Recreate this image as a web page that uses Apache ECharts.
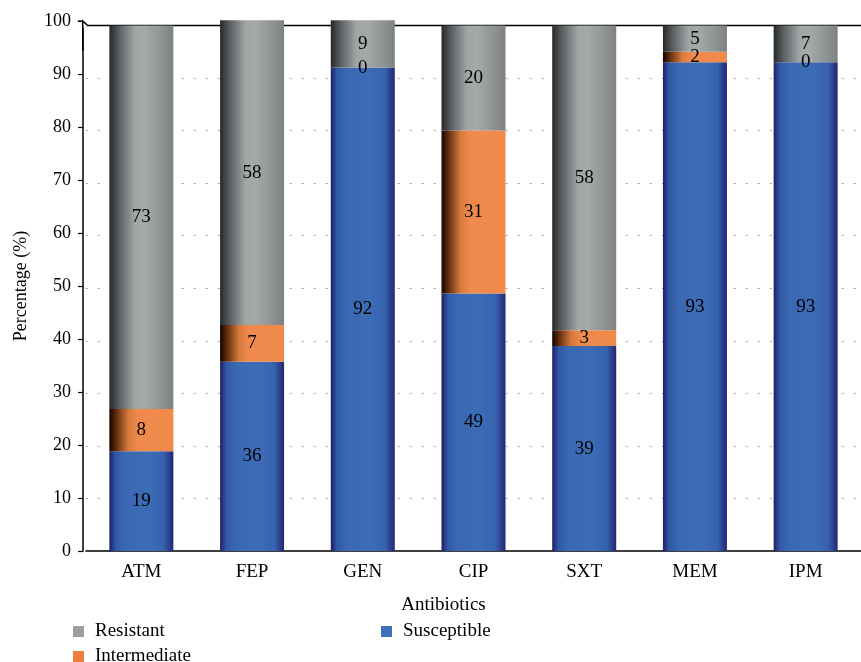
<!DOCTYPE html>
<html><head><meta charset="utf-8">
<script src="https://cdn.jsdelivr.net/npm/echarts@6/dist/echarts.min.js"></script>
<style>html,body{margin:0;padding:0;background:#fff}#c{width:861px;height:662px}</style>
</head><body><div id="c"></div>
<script>
var categories = ['ATM','FEP','GEN','CIP','SXT','MEM','IPM'];
var susceptible = [19,36,92,49,39,93,93];
var intermediate = [8,7,0,31,3,2,0];
var resistant = [73,58,9,20,58,5,7];
var yTicks = [0,10,20,30,40,50,60,70,80,90,100];

var FONT = 'Liberation Serif, DejaVu Serif, serif';
function grad(stops){
  return new echarts.graphic.LinearGradient(0,0,1,0,stops.map(function(s){return {offset:s[0],color:s[1]};}));
}
var blueG = grad([[0,'#201d66'],[0.1,'#3159a6'],[0.25,'#3a68b3'],[0.6,'#3d6cb7'],[0.85,'#3762ae'],[1,'#232573']]);
var grayG = grad([[0,'#25292b'],[0.15,'#5a5e60'],[0.4,'#a2a5a6'],[0.55,'#a6a9aa'],[0.85,'#8d9091'],[1,'#7d8081']]);
var orangeG = grad([[0,'#120400'],[0.12,'#6a3210'],[0.3,'#d77a3e'],[0.45,'#ef8a4c'],[1,'#f08a4b']]);

var chart = echarts.init(document.getElementById('c'), null, {renderer:'canvas'});
function mk(name, data, color){
  return {
    name:name, type:'bar', stack:'all', data:data, yAxisIndex:1, barWidth:64, clip:false,
    itemStyle:{color:color},
    label:{show:true, position:'inside', color:'#000', fontFamily:FONT, fontSize:19,
      formatter:function(p){return String(p.value);}},
    emphasis:{disabled:true}
  };
}
var legTxt = {fontFamily:FONT,fontSize:19,color:'#000',padding:[0,0,0,6]};
var option = {
  animation:false,
  textStyle:{fontFamily:FONT},
  grid:{left:86, top:21, width:778, height:530, containLabel:false},
  legend:[
    {data:[{name:'Resistant',itemStyle:{color:'#9c9e9f'}}], left:68, top:617, icon:'rect', itemWidth:11, itemHeight:11, textStyle:legTxt},
    {data:[{name:'Susceptible',itemStyle:{color:'#4170ba'}}], left:376, top:617, icon:'rect', itemWidth:11, itemHeight:11, textStyle:legTxt},
    {data:[{name:'Intermediate',itemStyle:{color:'#ec7d3a'}}], left:68, top:642, icon:'rect', itemWidth:11, itemHeight:11, textStyle:legTxt}
  ],
  xAxis:{type:'category', data:categories,
    axisLine:{lineStyle:{color:'#000',width:1.5}}, axisTick:{show:false},
    axisLabel:{color:'#000',fontFamily:FONT,fontSize:19,margin:12},
    name:'Antibiotics', nameLocation:'middle', nameGap:45,
    nameTextStyle:{color:'#000',fontFamily:FONT,fontSize:19,padding:[0,60,0,0]}},
  yAxis:[
    {type:'value', min:0, max:100, interval:10, offset:3,
      axisLine:{show:true,lineStyle:{color:'#000',width:1.5}},
      axisTick:{show:true,length:5,lineStyle:{color:'#000',width:1.2}},
      axisLabel:{color:'#000',fontFamily:FONT,fontSize:18,margin:12,
        formatter:function(v){return yTicks.indexOf(v)>=0?String(v):'';}},
      splitLine:{show:false},
      name:'Percentage (%)', nameLocation:'middle', nameGap:53,
      nameTextStyle:{color:'#000',fontFamily:FONT,fontSize:18}},
    {type:'value', min:0, max:100.86, interval:10, show:true,
      axisLine:{show:false}, axisTick:{show:false}, axisLabel:{show:false},
      splitLine:{show:true,showMaxLine:false,showMinLine:false,lineStyle:{color:'#8a8a8a',width:1.2,type:[1.5,10.5]}}}
  ],
  series:[
    mk('Susceptible', susceptible, blueG),
    mk('Intermediate', intermediate, orangeG),
    mk('Resistant', resistant, grayG)
  ]
};
chart.setOption(option);
var yTop = chart.convertToPixel({yAxisIndex:1}, 100);
var yTick = chart.convertToPixel({yAxisIndex:0}, 100);
var x0 = chart.convertToPixel({xAxisIndex:0}, 'ATM') - 55.6;
chart.setOption({graphic:[
  {type:'rect', z:1, shape:{x:x0-4, y:yTick-1, width:10, height:yTop-yTick+3}, style:{fill:'#fff'}},
  {type:'polyline', z:1, shape:{points:[[x0-3,yTick+30],[x0-3,yTick],[x0+2,yTop],[861,yTop]]}, style:{stroke:'#000',lineWidth:1.5,fill:null}},
  {type:'line', z:1, shape:{x1:x0-8,y1:yTick,x2:x0-3,y2:yTick}, style:{stroke:'#000',lineWidth:1.2}}
]});
</script></body></html>
